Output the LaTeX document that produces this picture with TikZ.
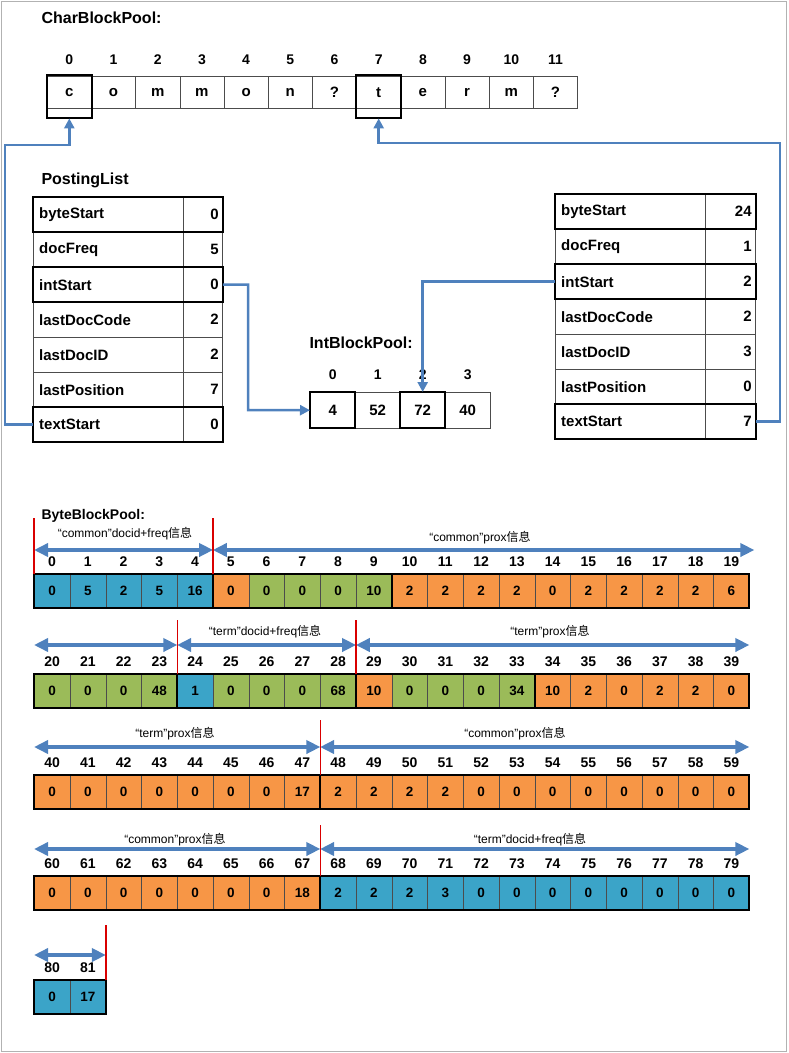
\documentclass[tikz,border=0pt]{standalone}
\usepackage{fontspec}
\setmainfont{Liberation Sans}
\newfontfamily\cjk{Noto Sans CJK SC}
\usetikzlibrary{arrows.meta}
\definecolor{cellblue}{HTML}{3BA4C8}
\definecolor{cellgreen}{HTML}{9BBB59}
\definecolor{cellorange}{HTML}{F79646}
\definecolor{linkblue}{HTML}{4F81BD}
\tikzset{
  cell/.style={draw=black!70, anchor=north west, inner sep=0pt, minimum width=35.75pt,
    minimum height=34pt, font=\fontsize{13.5}{13.5}\selectfont\bfseries},
  idx/.style={font=\fontsize{14}{14}\selectfont\bfseries},
  group/.style={draw, line width=2pt},
  span/.style={linkblue, line width=4pt, {Triangle[width=13pt,length=14pt]}-{Triangle[width=13pt,length=14pt]}},
  redmark/.style={red!85!black, line width=1.6pt},
  note/.style={font=\fontsize{12}{12}\selectfont},
  link/.style={linkblue, line width=2.5pt, -{Triangle[width=10pt,length=10pt]}},
  chr/.style={draw=black!70, anchor=north west, inner sep=0pt, minimum width=44.2pt,
    minimum height=32pt, font=\fontsize{15}{15}\selectfont\bfseries},
  pname/.style={draw=black!70, anchor=north west, inner sep=6pt, minimum height=35pt,
    text width=138pt, align=left, font=\fontsize{15}{15}\selectfont\bfseries},
  pval/.style={draw=black!70, anchor=north west, inner sep=4pt, minimum height=35pt,
    text width=#1, align=right, font=\fontsize{15}{15}\selectfont\bfseries},
  title/.style={anchor=west, font=\fontsize{16}{16}\selectfont\bfseries}
}
\begin{document}
\begin{tikzpicture}[x=1pt,y=-1pt]
\useasboundingbox (0,0) rectangle (788,1053);
\draw[black!30] (1,1) rectangle (786,1051);
% CharBlockPool
\node[title] (cbp) at (38,18) {CharBlockPool:};
\foreach [count=\i from 0] \c in {c,o,m,m,o,n,?,t,e,r,m,?}{
  \node[chr] (c\i) at (47+44.2*\i,76) {\c};
  \node[idx] at ([yshift=16]c\i.north) {\i};
}
\draw[group] ([yshift=1]c0.north west) rectangle ([yshift=-10]c0.south east);
\draw[group] ([yshift=1]c7.north west) rectangle ([yshift=-10]c7.south east);
% PostingList (left)
\node[title] (plt) at (38,180) {PostingList};
\foreach [count=\i] \n/\v in {byteStart/0,docFreq/5,intStart/0,lastDocCode/2,lastDocID/2,lastPosition/7,textStart/0}{
  \node[pname] (pl\i) at (33,162+35*\i) {\n};
  \node[pval=31pt] (pv\i) at (pl\i.north east) {\v};
}
\foreach \i in {1,3,7}
  \draw[group] (pl\i.north west) rectangle (pv\i.south east);
% PostingList (right)
\foreach [count=\i] \n/\v in {byteStart/24,docFreq/1,intStart/2,lastDocCode/2,lastDocID/3,lastPosition/0,textStart/7}{
  \node[pname] (pr\i) at (555,159+35*\i) {\n};
  \node[pval=42pt] (prv\i) at (pr\i.north east) {\v};
}
\foreach \i in {1,3,7}
  \draw[group] (pr\i.north west) rectangle (prv\i.south east);
% IntBlockPool
\node[title] (ibp) at (306,343) {IntBlockPool:};
\foreach [count=\i from 0] \v in {4,52,72,40}{
  \node[chr, minimum width=45pt, minimum height=36pt] (i\i) at (310+45*\i,392) {\v};
  \node[idx] at ([yshift=17]i\i.north) {\i};
}
\draw[group] (i0.north west) rectangle (i0.south east);
\draw[group] (i2.north west) rectangle (i2.south east);
% links
\coordinate (lk1) at (5,145);
\coordinate (lk2) at (780,143);
\coordinate (lk3) at (248,410);
\draw[link] (pl7.west) -| (lk1) -| ([yshift=-10]c0.south);
\draw[link] (prv7.east) -| (lk2) -| ([yshift=-10]c7.south);
\draw[link] (pv3.east) -| (lk3) -- (i0.west);
\draw[link] (pr3.west) -| (i2.north);
% ByteBlockPool
\node[anchor=west, font=\fontsize{14}{14}\selectfont\bfseries] (bbp) at (38,516) {ByteBlockPool:};
\foreach \y/\s/\lst in {
  574/0/{cellblue/0,cellblue/5,cellblue/2,cellblue/5,cellblue/16,cellorange/0,cellgreen/0,cellgreen/0,cellgreen/0,cellgreen/10,cellorange/2,cellorange/2,cellorange/2,cellorange/2,cellorange/0,cellorange/2,cellorange/2,cellorange/2,cellorange/2,cellorange/6},
  674/20/{cellgreen/0,cellgreen/0,cellgreen/0,cellgreen/48,cellblue/1,cellgreen/0,cellgreen/0,cellgreen/0,cellgreen/68,cellorange/10,cellgreen/0,cellgreen/0,cellgreen/0,cellgreen/34,cellorange/10,cellorange/2,cellorange/0,cellorange/2,cellorange/2,cellorange/0},
  775/40/{cellorange/0,cellorange/0,cellorange/0,cellorange/0,cellorange/0,cellorange/0,cellorange/0,cellorange/17,cellorange/2,cellorange/2,cellorange/2,cellorange/2,cellorange/0,cellorange/0,cellorange/0,cellorange/0,cellorange/0,cellorange/0,cellorange/0,cellorange/0},
  876/60/{cellorange/0,cellorange/0,cellorange/0,cellorange/0,cellorange/0,cellorange/0,cellorange/0,cellorange/18,cellblue/2,cellblue/2,cellblue/2,cellblue/3,cellblue/0,cellblue/0,cellblue/0,cellblue/0,cellblue/0,cellblue/0,cellblue/0,cellblue/0},
  980/80/{cellblue/0,cellblue/17}}{
  \foreach [count=\i from 0] \c/\v in \lst{
    \pgfmathtruncatemacro{\n}{\s+\i}
    \node[cell, fill=\c] (b\n) at (34+35.75*\i,\y) {\v};
    \node[idx] at ([yshift=12]b\n.north) {\n};
  }
}
\foreach \a/\b in {0/4,5/9,10/19,20/23,24/28,29/33,34/39,40/47,48/59,60/67,68/79,80/81}
  \draw[group] (b\a.north west) rectangle (b\b.south east);
% spans and marks
\draw[span] ([yshift=24]b0.north west) -- ([yshift=24]b4.north east);
\draw[span] ([yshift=24]b5.north west) -- ([shift={(5,-24)}]b19.north east);
\draw[span] ([yshift=29]b20.north west) -- ([yshift=29]b23.north east);
\draw[span] ([yshift=29]b24.north west) -- ([yshift=29]b28.north east);
\draw[span] ([yshift=29]b29.north west) -- ([yshift=29]b39.north east);
\draw[span] ([yshift=28]b40.north west) -- ([yshift=28]b47.north east);
\draw[span] ([yshift=28]b48.north west) -- ([yshift=28]b59.north east);
\draw[span] ([yshift=27]b60.north west) -- ([yshift=27]b67.north east);
\draw[span] ([yshift=27]b68.north west) -- ([yshift=27]b79.north east);
\draw[span] ([yshift=25]b80.north west) -- ([yshift=25]b81.north east);
\foreach \k/\h in {b4/56,b23/54,b28/54,b47/55,b67/51,b81/55}
  \draw[redmark] (\k.north east) -- ++(0,-\h);
\draw[redmark] (b0.north west) -- ++(0,-56);
\node[note] (t1) at (125,534) {“common”docid+freq{\cjk 信息}};
\node[note] (t2) at (480,538) {“common”prox{\cjk 信息}};
\node[note] (t3) at (265,632) {“term”docid+freq{\cjk 信息}};
\node[note] (t4) at (550,632) {“term”prox{\cjk 信息}};
\node[note] (t5) at (175,734) {“term”prox{\cjk 信息}};
\node[note] (t6) at (515,734) {“common”prox{\cjk 信息}};
\node[note] (t7) at (175,840) {“common”prox{\cjk 信息}};
\node[note] (t8) at (530,840) {“term”docid+freq{\cjk 信息}};
\end{tikzpicture}
\end{document}
